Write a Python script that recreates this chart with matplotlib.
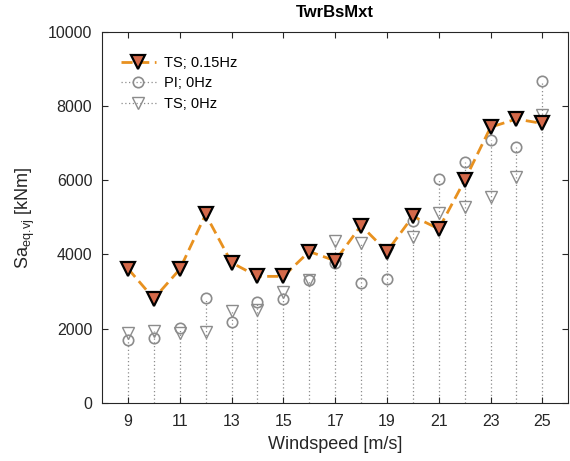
import matplotlib
matplotlib.use("Agg")
import matplotlib.pyplot as plt
from matplotlib.lines import Line2D

plt.rcParams['font.family'] = ['Liberation Sans', 'DejaVu Sans']

windspeed = [9, 10, 11, 12, 13, 14, 15, 16, 17, 18, 19, 20, 21, 22, 23, 24, 25]
ts_015 = [3620, 2810, 3600, 5080, 3780, 3410, 3410, 4080, 3830, 4780, 4080, 5030, 4690, 6000, 7430, 7650, 7530]
pi_0 = [1700, 1750, 2030, 2830, 2190, 2730, 2810, 3300, 3770, 3220, 3350, 4890, 6030, 6480, 7080, 6890, 8680]
ts_0 = [1890, 1950, 1890, 1920, 2490, 2510, 3000, 3300, 4370, 4300, 4030, 4460, 5130, 5270, 5540, 6080, 7760]

xticks = [9, 11, 13, 15, 17, 19, 21, 23, 25]
yticks = [0, 2000, 4000, 6000, 8000, 10000]

gray = '#8c8c8c'
orange = '#e8911f'
fill = '#d4694a'

fig = plt.figure(figsize=(5.70, 4.61), dpi=100)
ax = fig.add_axes([0.179, 0.126, 0.818, 0.805])

# stems (dotted) for 0Hz series
for x, a, b in zip(windspeed, pi_0, ts_0):
    ax.plot([x, x], [0, max(a, b)], linestyle=(0, (1, 2)), color=gray, lw=0.9, zorder=1)

ax.plot(windspeed, pi_0, linestyle='none', marker='o', ms=7.5, mfc='none',
        mec=gray, mew=1.2, zorder=2)
ax.plot(windspeed, ts_0, linestyle='none', marker='v', ms=8.5, mfc='none',
        mec=gray, mew=1.0, zorder=2)
ax.plot(windspeed, ts_015, linestyle=(0, (4, 2)), color=orange, lw=2.0,
        marker='v', ms=9.5, mfc=fill, mec='black', mew=1.6, zorder=3)

ax.set_xlim(8, 26)
ax.set_ylim(0, 10000)
ax.set_xticks(xticks)
ax.set_yticks(yticks)
ax.tick_params(direction='in', top=True, right=True, labelsize=11.5, length=4,
               width=0.8, colors='#262626')
ax.tick_params(axis='x', pad=8)
ax.tick_params(axis='y', pad=7)
for s in ax.spines.values():
    s.set_color('#262626')
    s.set_linewidth(0.8)

ax.set_xlabel('Windspeed [m/s]', fontsize=13, color='#262626', labelpad=5)
ax.set_ylabel(r'Sa$_{\mathregular{eq.\!vj}}$ [kNm]', fontsize=13, color='#262626', labelpad=8)
ax.set_title('TwrBsMxt', fontsize=12, fontweight='bold', color='black', pad=11)

handles = [
    Line2D([], [], linestyle=(0, (4, 2)), color=orange, lw=2.0, marker='v', ms=9.5,
           mfc=fill, mec='black', mew=1.6),
    Line2D([], [], linestyle=(0, (1, 2)), color=gray, lw=0.9, marker='o', ms=7.5,
           mfc='none', mec=gray, mew=1.2),
    Line2D([], [], linestyle=(0, (1, 2)), color=gray, lw=0.9, marker='v', ms=8.5,
           mfc='none', mec=gray, mew=1.0),
]
ax.legend(handles, ['TS; 0.15Hz', 'PI; 0Hz', 'TS; 0Hz'], loc='upper left',
          frameon=False, fontsize=10.5, handlelength=2.4, handletextpad=0.55,
          labelspacing=0.45, borderpad=0, borderaxespad=0,
          bbox_to_anchor=(0.04, 0.935))

fig.savefig('out.png', dpi=100)
